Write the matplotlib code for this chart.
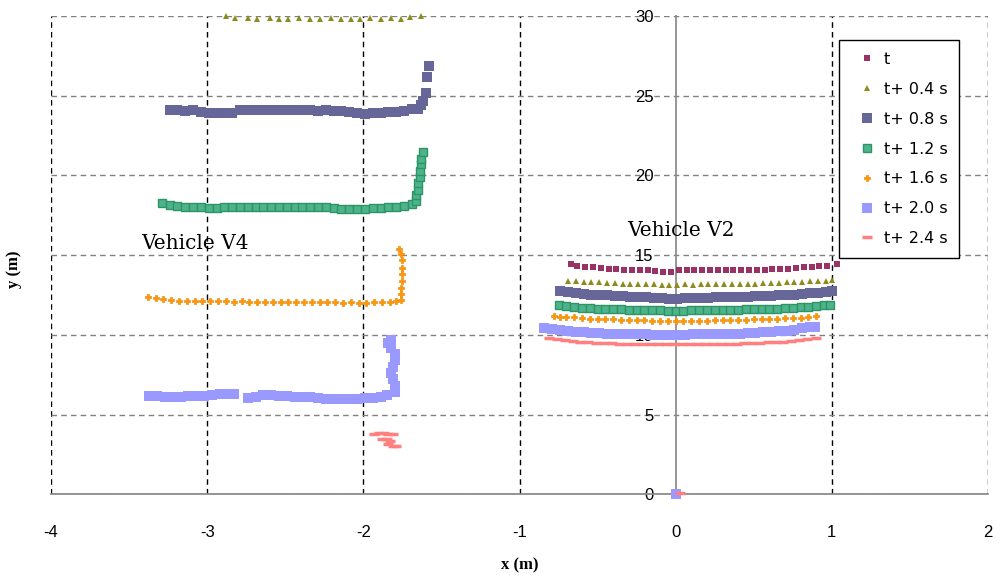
import matplotlib
matplotlib.use('Agg')
import matplotlib.pyplot as plt

plt.rcParams['axes.unicode_minus'] = False

# ---- data: (x, y) in metres ----
# V2 is the vehicle ahead (right), V4 the one on the left
t00_v2 = [(-0.67, 14.45), (-0.63, 14.3), (-0.58, 14.28), (-0.53, 14.25), (-0.48, 14.2), (-0.43, 14.15),
          (-0.38, 14.12), (-0.33, 14.1), (-0.28, 14.08), (-0.23, 14.05), (-0.18, 14.05), (-0.13, 14.02),
          (-0.08, 13.95), (-0.03, 13.97), (0.02, 14.05), (0.07, 14.05), (0.12, 14.05), (0.17, 14.05),
          (0.22, 14.05), (0.27, 14.05), (0.32, 14.06), (0.37, 14.06), (0.42, 14.06), (0.47, 14.07),
          (0.52, 14.08), (0.57, 14.1), (0.62, 14.12), (0.67, 14.15), (0.72, 14.15), (0.77, 14.2),
          (0.82, 14.25), (0.87, 14.28), (0.92, 14.3), (0.97, 14.35), (1.03, 14.45)]

t04_v4 = [(-2.88, 30.0), (-2.82, 29.9), (-2.74, 29.9), (-2.68, 29.85), (-2.60, 29.9), (-2.54, 29.85),
          (-2.48, 29.8), (-2.41, 29.9), (-2.34, 29.85), (-2.28, 29.8), (-2.21, 29.9), (-2.14, 29.85),
          (-2.08, 29.85), (-2.02, 29.8), (-1.96, 29.9), (-1.89, 29.85), (-1.82, 29.9), (-1.76, 29.85),
          (-1.70, 29.95), (-1.63, 30.0)]
t04_v2 = [(-0.69, 13.4), (-0.64, 13.35), (-0.59, 13.33), (-0.54, 13.3), (-0.49, 13.3), (-0.44, 13.28),
          (-0.39, 13.25), (-0.34, 13.22), (-0.29, 13.22), (-0.24, 13.2), (-0.19, 13.2), (-0.14, 13.17),
          (-0.09, 13.15), (-0.04, 13.15), (0.01, 13.15), (0.06, 13.17), (0.11, 13.15), (0.16, 13.18),
          (0.21, 13.18), (0.26, 13.2), (0.31, 13.2), (0.36, 13.2), (0.41, 13.22), (0.46, 13.2),
          (0.51, 13.22), (0.56, 13.25), (0.61, 13.25), (0.66, 13.27), (0.71, 13.3), (0.76, 13.3),
          (0.81, 13.33), (0.86, 13.35), (0.91, 13.38), (0.96, 13.4), (1.0, 13.42)]

t08_v4 = [(-3.24, 24.1), (-3.19, 24.1), (-3.14, 24.05), (-3.09, 24.1), (-3.04, 24.0), (-2.99, 23.95),
          (-2.94, 23.9), (-2.89, 23.9), (-2.84, 23.95), (-2.79, 24.1), (-2.74, 24.1), (-2.69, 24.1),
          (-2.64, 24.1), (-2.59, 24.1), (-2.54, 24.1), (-2.49, 24.1), (-2.44, 24.1), (-2.39, 24.1),
          (-2.34, 24.08), (-2.29, 24.05), (-2.24, 24.08), (-2.19, 24.05), (-2.14, 24.05), (-2.09, 24.0),
          (-2.04, 23.9), (-1.99, 23.88), (-1.94, 23.9), (-1.89, 23.95), (-1.84, 24.0), (-1.79, 24.0),
          (-1.74, 24.05), (-1.69, 24.15), (-1.65, 24.15), (-1.63, 24.4), (-1.62, 24.7), (-1.60, 25.2),
          (-1.59, 26.2), (-1.58, 26.9)]
t08_v2 = [(-0.74, 12.75), (-0.69, 12.7), (-0.64, 12.62), (-0.59, 12.55), (-0.54, 12.5), (-0.49, 12.5),
          (-0.44, 12.48), (-0.39, 12.45), (-0.34, 12.42), (-0.29, 12.4), (-0.24, 12.38), (-0.19, 12.35),
          (-0.14, 12.32), (-0.09, 12.3), (-0.04, 12.28), (0.01, 12.28), (0.06, 12.3), (0.11, 12.3),
          (0.16, 12.32), (0.21, 12.32), (0.26, 12.35), (0.31, 12.35), (0.36, 12.38), (0.41, 12.38),
          (0.46, 12.4), (0.51, 12.42), (0.56, 12.42), (0.61, 12.45), (0.66, 12.48), (0.71, 12.5),
          (0.76, 12.52), (0.81, 12.55), (0.86, 12.6), (0.91, 12.65), (0.96, 12.7), (1.0, 12.75)]

t12_v4 = [(-3.29, 18.25), (-3.24, 18.15), (-3.19, 18.1), (-3.14, 18.05), (-3.09, 18.0), (-3.04, 18.0),
          (-2.99, 17.95), (-2.94, 17.98), (-2.89, 18.0), (-2.84, 18.0), (-2.79, 18.02), (-2.74, 18.03),
          (-2.69, 18.02), (-2.64, 18.03), (-2.59, 18.02), (-2.54, 18.03), (-2.49, 18.03), (-2.44, 18.02),
          (-2.39, 18.03), (-2.34, 18.02), (-2.29, 18.0), (-2.24, 18.02), (-2.19, 17.98), (-2.14, 17.92),
          (-2.09, 17.88), (-2.04, 17.88), (-1.99, 17.9), (-1.94, 17.95), (-1.89, 17.95), (-1.84, 18.0),
          (-1.79, 18.05), (-1.74, 18.1), (-1.69, 18.2), (-1.66, 18.4), (-1.66, 18.75), (-1.65, 19.1),
          (-1.65, 19.5), (-1.64, 19.9), (-1.64, 20.3), (-1.63, 20.7), (-1.63, 21.05), (-1.62, 21.5)]
t12_v2 = [(-0.75, 11.85), (-0.70, 11.8), (-0.65, 11.75), (-0.60, 11.7), (-0.55, 11.68), (-0.50, 11.65),
          (-0.45, 11.62), (-0.40, 11.6), (-0.35, 11.6), (-0.30, 11.58), (-0.25, 11.57), (-0.20, 11.56),
          (-0.15, 11.55), (-0.10, 11.55), (-0.05, 11.5), (0.0, 11.5), (0.05, 11.52), (0.10, 11.53),
          (0.15, 11.55), (0.20, 11.55), (0.25, 11.55), (0.30, 11.56), (0.35, 11.57), (0.40, 11.58),
          (0.45, 11.6), (0.50, 11.6), (0.55, 11.62), (0.60, 11.65), (0.65, 11.65), (0.70, 11.68),
          (0.75, 11.7), (0.80, 11.72), (0.85, 11.75), (0.90, 11.8), (0.95, 11.85), (0.99, 11.88)]

t16_v4 = [(-3.38, 12.35), (-3.33, 12.3), (-3.28, 12.25), (-3.23, 12.2), (-3.18, 12.15), (-3.13, 12.15),
          (-3.08, 12.12), (-3.03, 12.1), (-2.98, 12.1), (-2.93, 12.12), (-2.88, 12.1), (-2.83, 12.08),
          (-2.78, 12.1), (-2.73, 12.08), (-2.68, 12.05), (-2.63, 12.06), (-2.58, 12.05), (-2.53, 12.05),
          (-2.48, 12.04), (-2.43, 12.05), (-2.38, 12.04), (-2.33, 12.03), (-2.28, 12.04), (-2.23, 12.03),
          (-2.18, 12.03), (-2.13, 12.02), (-2.08, 12.03), (-2.03, 12.02), (-1.98, 12.02), (-1.93, 12.03),
          (-1.88, 12.05), (-1.83, 12.08), (-1.79, 12.12), (-1.76, 12.2), (-1.76, 12.55), (-1.76, 12.95),
          (-1.75, 13.4), (-1.75, 13.8), (-1.75, 14.2), (-1.75, 14.7), (-1.76, 15.1), (-1.77, 15.4)]
t16_v2 = [(-0.78, 11.2), (-0.74, 11.15), (-0.70, 11.12), (-0.65, 11.1), (-0.60, 11.05), (-0.55, 11.02),
          (-0.50, 11.0), (-0.45, 10.98), (-0.40, 10.97), (-0.35, 10.95), (-0.30, 10.95), (-0.25, 10.93),
          (-0.20, 10.92), (-0.15, 10.9), (-0.10, 10.9), (-0.05, 10.88), (0.0, 10.88), (0.05, 10.88),
          (0.10, 10.9), (0.15, 10.9), (0.20, 10.9), (0.25, 10.92), (0.30, 10.92), (0.35, 10.93),
          (0.40, 10.95), (0.45, 10.95), (0.50, 10.97), (0.55, 10.98), (0.60, 11.0), (0.65, 11.02),
          (0.70, 11.03), (0.75, 11.05), (0.80, 11.08), (0.85, 11.12), (0.90, 11.17)]

t20_v4 = [(-3.37, 6.15), (-3.32, 6.15), (-3.27, 6.12), (-3.22, 6.12), (-3.17, 6.13), (-3.12, 6.15),
          (-3.07, 6.15), (-3.02, 6.17), (-2.97, 6.2), (-2.92, 6.3), (-2.87, 6.3), (-2.83, 6.28),
          (-2.74, 6.05), (-2.69, 6.12), (-2.64, 6.2), (-2.59, 6.22), (-2.54, 6.15), (-2.49, 6.15),
          (-2.44, 6.13), (-2.39, 6.12), (-2.34, 6.1), (-2.29, 6.05), (-2.24, 6.0), (-2.19, 5.98),
          (-2.14, 5.97), (-2.09, 5.98), (-2.04, 5.98), (-1.99, 6.02), (-1.94, 6.05), (-1.89, 6.1),
          (-1.85, 6.25), (-1.80, 6.4), (-1.80, 6.8), (-1.81, 7.2), (-1.82, 7.6), (-1.81, 8.0),
          (-1.80, 8.4), (-1.80, 8.8), (-1.82, 9.2), (-1.84, 9.5), (-1.82, 9.7), (0.0, 0.0)]
t20_v2 = [(-0.84, 10.45), (-0.79, 10.35), (-0.74, 10.28), (-0.69, 10.22), (-0.64, 10.18), (-0.59, 10.15),
          (-0.54, 10.12), (-0.49, 10.1), (-0.44, 10.08), (-0.39, 10.06), (-0.34, 10.05), (-0.29, 10.05),
          (-0.24, 10.04), (-0.19, 10.03), (-0.14, 10.02), (-0.09, 10.02), (-0.04, 10.02), (0.01, 10.02),
          (0.06, 10.02), (0.11, 10.03), (0.16, 10.03), (0.21, 10.04), (0.26, 10.05), (0.31, 10.06),
          (0.36, 10.07), (0.41, 10.08), (0.46, 10.1), (0.51, 10.12), (0.56, 10.15), (0.61, 10.18),
          (0.66, 10.22), (0.71, 10.27), (0.76, 10.33), (0.81, 10.4), (0.86, 10.47), (0.89, 10.52)]

t24_v4 = [(-1.93, 3.8), (-1.90, 3.85), (-1.87, 3.85), (-1.84, 3.8), (-1.81, 3.75),
          (-1.88, 3.45), (-1.85, 3.45), (-1.83, 3.35),
          (-1.84, 3.15), (-1.81, 3.05), (-1.79, 3.0), (0.03, 0.05)]
t24_v2 = [(-0.81, 9.78), (-0.76, 9.72), (-0.71, 9.66), (-0.66, 9.6), (-0.61, 9.56), (-0.56, 9.52),
          (-0.51, 9.5), (-0.46, 9.48), (-0.41, 9.46), (-0.36, 9.45), (-0.31, 9.44), (-0.26, 9.43),
          (-0.21, 9.42), (-0.16, 9.42), (-0.11, 9.41), (-0.06, 9.41), (-0.01, 9.4), (0.04, 9.4),
          (0.09, 9.41), (0.14, 9.41), (0.19, 9.42), (0.24, 9.42), (0.29, 9.43), (0.34, 9.44),
          (0.39, 9.45), (0.44, 9.46), (0.49, 9.48), (0.54, 9.5), (0.59, 9.52), (0.64, 9.55),
          (0.69, 9.58), (0.74, 9.62), (0.79, 9.67), (0.84, 9.72), (0.9, 9.78)]

series_labels = ['t', 't+ 0.4 s', 't+ 0.8 s', 't+ 1.2 s', 't+ 1.6 s', 't+ 2.0 s', 't+ 2.4 s']
series_points = [t00_v2, t04_v4 + t04_v2, t08_v4 + t08_v2, t12_v4 + t12_v2,
                 t16_v4 + t16_v2, t20_v4 + t20_v2, t24_v4 + t24_v2]
x_ticks = [-4, -3, -2, -1, 0, 1, 2]
y_ticks = [0, 5, 10, 15, 20, 25, 30]

# marker styles, roughly the old Excel palette
styles = [
    dict(marker='s', ms=4.3, mfc='#993366', mec='#993366', mew=0),
    dict(marker='^', ms=5, mfc='#8C8C1E', mec='#8C8C1E', mew=0),
    dict(marker='s', ms=7, mfc='#666699', mec='#666699', mew=0),
    dict(marker='s', ms=5.8, mfc='#4DB38A', mec='#2E9466', mew=1),
    dict(marker='P', ms=3.8, mfc='#FF9900', mec='#F08A10', mew=0.5),
    dict(marker='s', ms=7.3, mfc='#9999FF', mec='#9999FF', mew=0),
    dict(marker='_', ms=7, mfc='#FF8080', mec='#FF8080', mew=2.5),
]

fig = plt.figure(figsize=(10, 5.76), dpi=100)
ax = fig.add_axes([0.051, 0.142, 0.937, 0.830])

for pts, lab, st in zip(series_points, series_labels, styles):
    xs = [p[0] for p in pts]
    ys = [p[1] for p in pts]
    ax.plot(xs, ys, linestyle='none', label=lab, clip_on=False, zorder=3, **st)

ax.set_xlim(-4, 2)
ax.set_ylim(0, 30)
ax.set_xticks(x_ticks)
ax.set_yticks(y_ticks)
ax.set_xticklabels([str(v) for v in x_ticks])
ax.set_yticklabels([str(v) for v in y_ticks])

# y axis sits on x = 0, like the original
ax.spines['left'].set_position(('data', 0))
ax.spines['top'].set_visible(False)
ax.spines['right'].set_visible(False)
for s in ('left', 'bottom'):
    ax.spines[s].set_color('#8C8C8C')
    ax.spines[s].set_linewidth(1.3)

ax.tick_params(axis='both', length=0, labelsize=12)
ax.tick_params(axis='x', pad=22)
ax.tick_params(axis='y', pad=16)
for lab in ax.get_xticklabels() + ax.get_yticklabels():
    lab.set_family('Liberation Sans')

ax.set_axisbelow(True)
ax.grid(axis='x', color='black', linestyle=(0, (4, 3)), linewidth=1)
ax.grid(axis='y', color='#808080', linestyle=(0, (4, 3)), linewidth=1)
ax.xaxis.get_gridlines()[x_ticks.index(0)].set_visible(False)

ax.set_xlabel('x (m)', family='Liberation Serif', fontweight='bold', fontsize=12)
ax.set_ylabel('y (m)', family='Liberation Serif', fontweight='bold', fontsize=12)
ax.xaxis.set_label_coords(0.5, -0.132)
ax.yaxis.set_label_coords(-0.031, 0.47)

ax.text(-3.42, 15.75, 'Vehicle V4', family='DejaVu Serif', fontsize=14.5, va='center')
ax.text(-0.31, 16.55, 'Vehicle V2', family='DejaVu Serif', fontsize=14.5, va='center')

leg = ax.legend(loc='upper left', bbox_to_anchor=(0.839, 0.9306), bbox_transform=fig.transFigure,
                numpoints=1, fancybox=False, framealpha=1, edgecolor='black',
                borderpad=0.75, labelspacing=0.93, handlelength=2.0, handletextpad=0.05,
                borderaxespad=0, prop={'family': 'DejaVu Sans', 'size': 11.5})
leg.get_frame().set_linewidth(1.0)

fig.savefig('out.png', dpi=100)
